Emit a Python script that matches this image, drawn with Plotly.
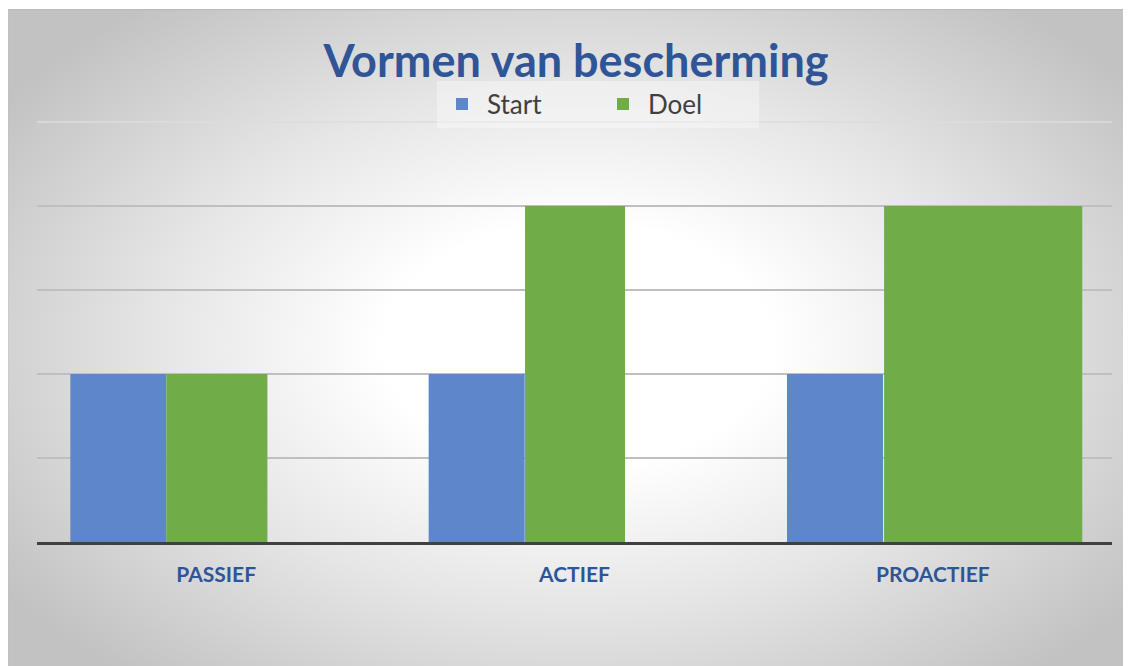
import base64
import plotly.graph_objects as go

categories = ["PASSIEF", "ACTIEF", "PROACTIEF"]
start_values = [2, 2, 2]
doel_values = [2, 4, 4]
series_names = ["Start", "Doel"]
title_text = "Vormen van bescherming"

W, H = 1131, 666
OFF = 8  # page offset of the figure
L = 37 - OFF
R = W - (1112 - OFF)
T = 122 - OFF
B = H - (542 - OFF)
pw, ph = W - L - R, H - T - B

svg = '''<svg xmlns="http://www.w3.org/2000/svg" width="1119" height="700" viewBox="0 0 1119 700" preserveAspectRatio="none">
<defs><radialGradient id="g" cx="51%" cy="48%" r="62%" fx="51%" fy="48%">
<stop offset="0" stop-color="#ffffff"/><stop offset="0.28" stop-color="#ffffff"/>
<stop offset="0.6" stop-color="#e6e6e6"/><stop offset="1" stop-color="#c2c2c2"/></radialGradient></defs>
<rect x="0" y="0" width="1119" height="700" fill="url(#g)"/>
<rect x="0.5" y="0.5" width="1118" height="699" fill="none" stroke="#bdbdbd" stroke-width="1.5"/>
</svg>'''
src = "data:image/svg+xml;base64," + base64.b64encode(svg.encode()).decode()

def px2x(px):
    return (px - OFF - L) / pw

def py2y(py):
    return (H - B - (py - OFF)) / ph

fig = go.Figure()
fig.add_trace(go.Bar(
    x=categories, y=start_values, name=series_names[0],
    marker=dict(color="#5E86CA", line=dict(width=0)),
    offset=[-0.407, -0.407, -0.407], width=[0.268, 0.268, 0.268],
))
fig.add_trace(go.Bar(
    x=categories, y=doel_values, name=series_names[1],
    marker=dict(color="#70AC48", line=dict(width=0)),
    offset=[-0.139, -0.138, -0.136], width=[0.282, 0.279, 0.553],
))

fig.update_layout(
    width=W, height=H,
    margin=dict(l=L, r=R, t=T, b=B, pad=0),
    paper_bgcolor="white", plot_bgcolor="rgba(0,0,0,0)",
    barmode="overlay",
    title=dict(text="<b>" + title_text + "</b>", x=px2x(576), xref="paper", xanchor="center",
               y=1 - (61 - OFF) / H, yanchor="middle",
               font=dict(family="Lato", size=45, color="#2F5597")),
    legend=dict(orientation="h", x=px2x(437), xanchor="left", y=py2y(104), yanchor="middle",
                xref="paper", yref="paper", itemwidth=40,
                bgcolor="rgba(255,255,255,0.35)", entrywidth=106, entrywidthmode="pixels",
                font=dict(family="Lato", size=26, color="#404040"), itemclick=False),
    showlegend=True,
    images=[dict(source=src, xref="paper", yref="paper", x=px2x(7), y=py2y(9),
                 sizex=1119 / pw, sizey=700 / ph, sizing="stretch", layer="below",
                 xanchor="left", yanchor="top")],
    shapes=[dict(type="line", xref="paper", yref="paper", x0=0, x1=1, y0=1, y1=1,
                 line=dict(color="#dcdcdc", width=1.5), layer="below")],
)
fig.update_xaxes(showline=True, linecolor="#404040", linewidth=3, ticks="",
                 tickfont=dict(family="Lato", size=21, color="#2F5597", weight="bold"),
                 ticklabelstandoff=12, showgrid=False, fixedrange=True)
fig.update_yaxes(range=[0, 5], tickvals=[1, 2, 3, 4], showticklabels=False,
                 showgrid=True, gridcolor="#bfbfbf", gridwidth=1.5, zeroline=False,
                 showline=False, fixedrange=True)

fig.write_html("out.html")
